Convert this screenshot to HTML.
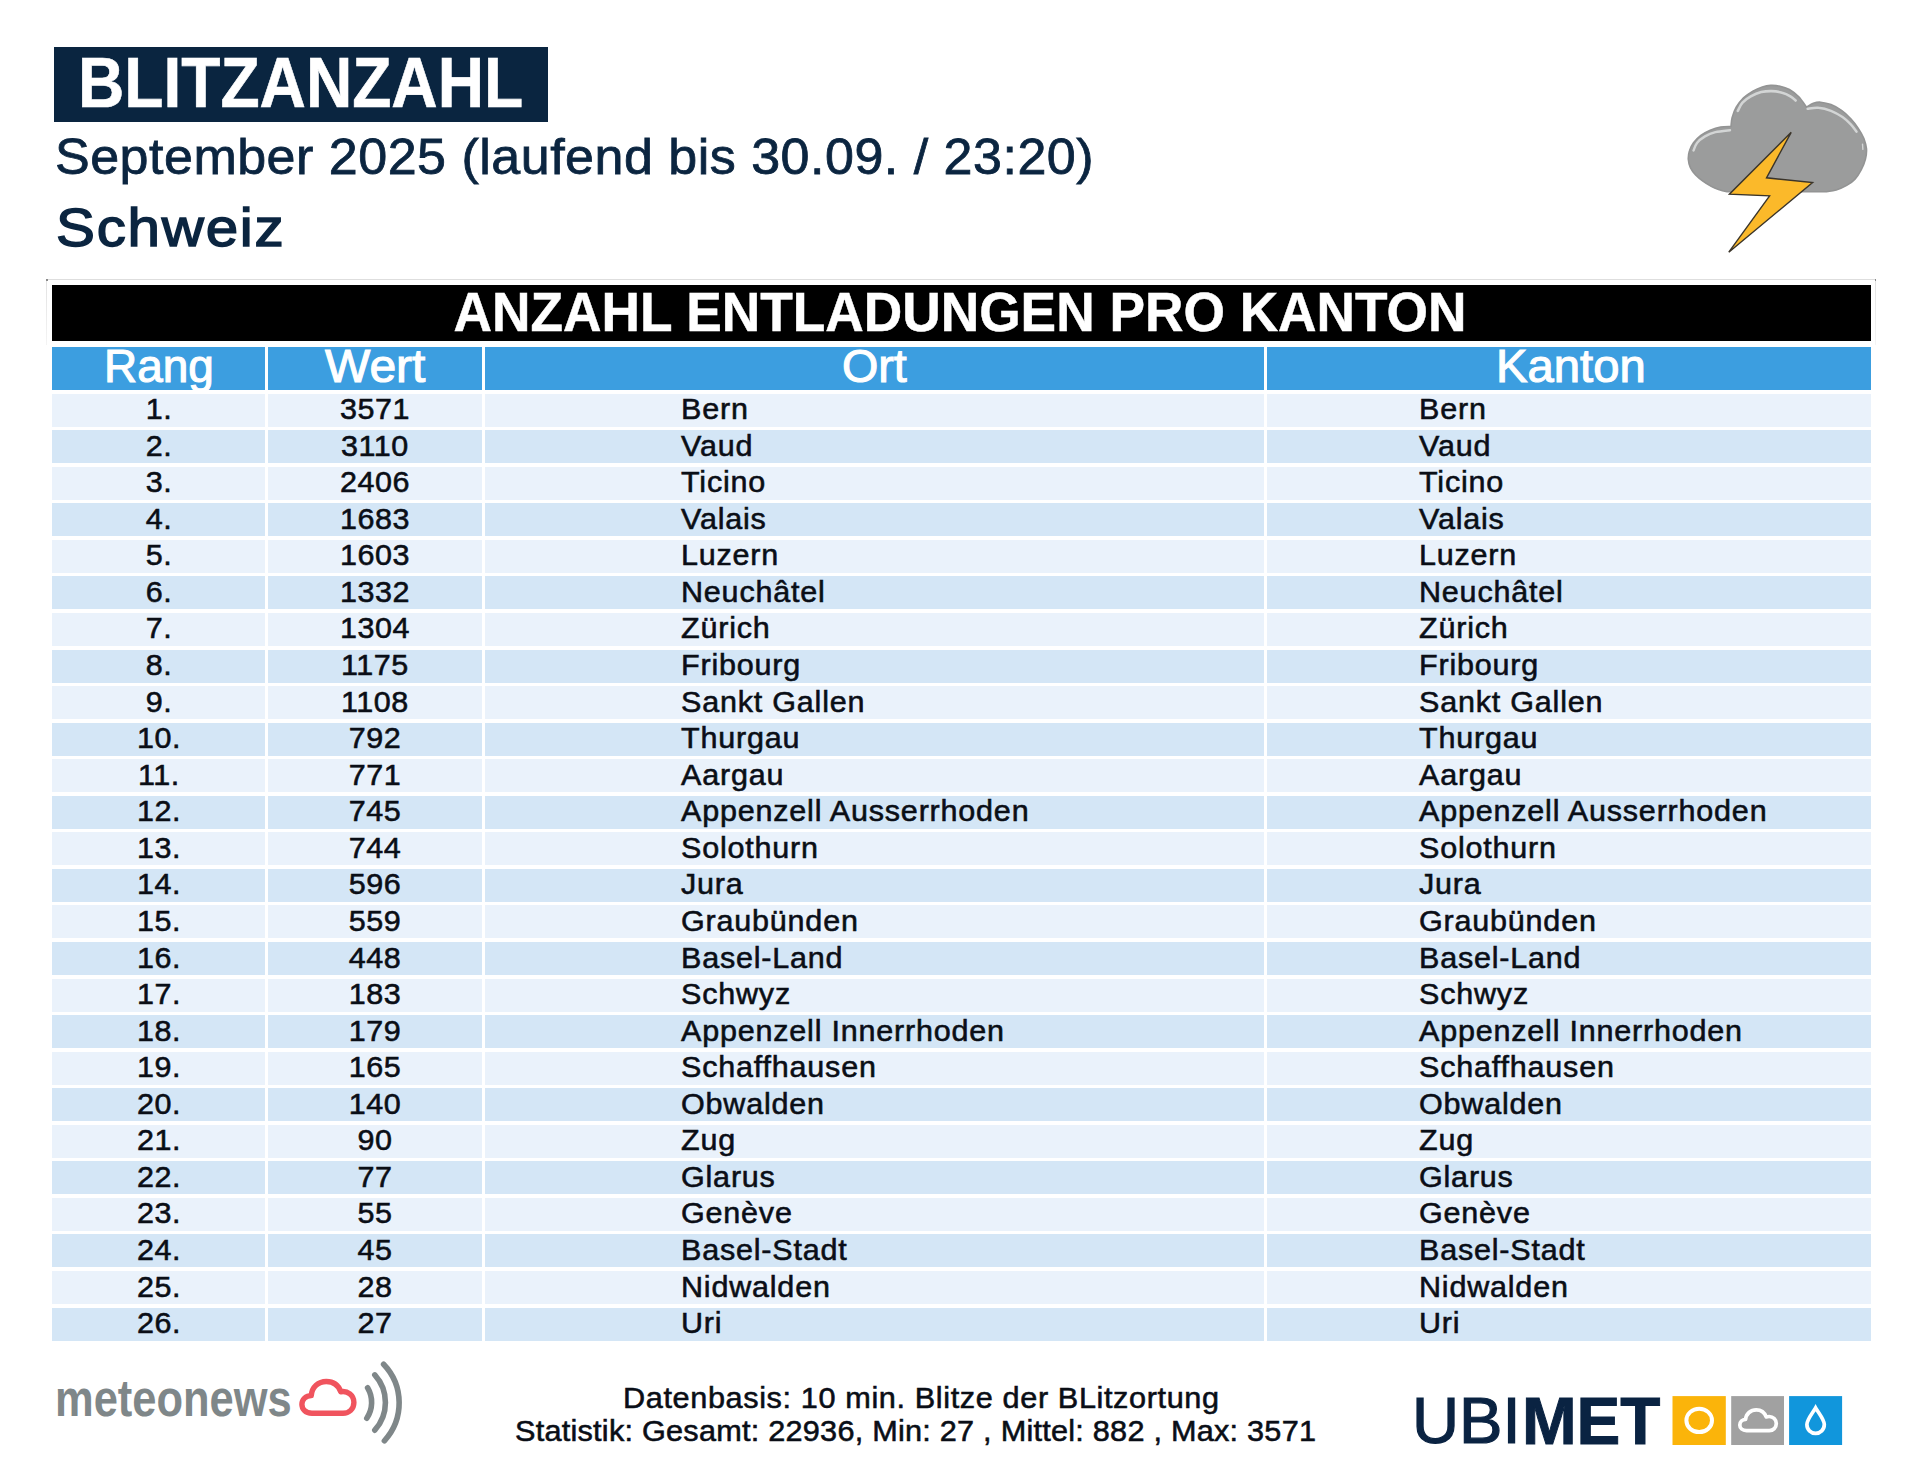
<!DOCTYPE html>
<html lang="de"><head><meta charset="utf-8"><title>Blitzanzahl September 2025 Schweiz</title>
<style>
html,body{margin:0;padding:0;background:#fff;}
body{width:1920px;height:1477px;position:relative;overflow:hidden;font-family:"Liberation Sans",sans-serif;}
.t{position:absolute;white-space:nowrap;margin:0;padding:0;}
.b{font-weight:bold;}
.navy{color:#0b2540;}
.s3{-webkit-text-stroke:0.55px currentColor;}
.s4{-webkit-text-stroke:0.45px currentColor;}
.w{color:#fff;}
.k{color:#0a0e16;}
.box{position:absolute;}
.r0{background:#eaf2fb;}
.r1{background:#d4e6f6;}
.hd{background:#3c9ee0;overflow:hidden;}
svg{position:absolute;overflow:visible;}
</style></head><body>

<div class="box" style="left:54px;top:46.8px;width:494.4px;height:75.3px;background:#0a2540;"></div>
<div class="t b w" style="left:77.50px;top:47.74px;font-size:70px;line-height:70px;transform:scaleX(0.9158);transform-origin:0 0;-webkit-text-stroke:0.6px #fff;">BLITZANZAHL</div>
<div class="t navy" style="left:55.40px;top:131.77px;font-size:50px;line-height:50px;transform:scaleX(1.04);transform-origin:0 0;-webkit-text-stroke:0.8px #0b2540;letter-spacing:0.48px;">September 2025 (laufend bis 30.09. / 23:20)</div>
<div class="t navy" style="left:55.90px;top:201.47px;font-size:54.5px;line-height:54.5px;transform:scaleX(1.07);transform-origin:0 0;-webkit-text-stroke:1.5px #0b2540;letter-spacing:1.65px;">Schweiz</div>
<div class="box" style="left:46px;top:279px;width:1830px;height:1.3px;background:#dedede;"></div>
<div class="box" style="left:46px;top:279px;width:1.2px;height:66px;background:linear-gradient(#e2e2e2,#f4f4f4);"></div>
<div class="box" style="left:1875px;top:279px;width:1.2px;height:66px;background:linear-gradient(#e2e2e2,#f4f4f4);"></div>
<div class="box" style="left:46px;top:279px;width:1.6px;height:1.6px;background:#8a8a8a;"></div>
<div class="box" style="left:1874.8px;top:279px;width:1.6px;height:1.6px;background:#8a8a8a;"></div>
<div class="box" style="left:52px;top:285px;width:1818.5px;height:56.3px;background:#000;"></div>
<div class="t b w" style="left:959.60px;top:284.27px;font-size:55.8px;line-height:55.8px;transform:translateX(-50%) scaleX(0.9546);transform-origin:50% 0;-webkit-text-stroke:0.5px #fff;">ANZAHL ENTLADUNGEN PRO KANTON</div>
<div class="box hd" style="left:52px;top:346.6px;width:213px;height:43.1px;"><div class="t w" style="left:51.80px;top:-3.42px;font-size:46.8px;line-height:46.8px;transform:scaleX(0.981);transform-origin:0 0;-webkit-text-stroke:1.1px #fff;">Rang</div></div>
<div class="box hd" style="left:268px;top:346.6px;width:214px;height:43.1px;"><div class="t w" style="left:57.40px;top:-3.42px;font-size:46.8px;line-height:46.8px;transform:scaleX(1.025);transform-origin:0 0;-webkit-text-stroke:1.1px #fff;">Wert</div></div>
<div class="box hd" style="left:485px;top:346.6px;width:779px;height:43.1px;"><div class="t w" style="left:356.50px;top:-3.42px;font-size:46.8px;line-height:46.8px;transform:scaleX(0.997);transform-origin:0 0;-webkit-text-stroke:1.1px #fff;">Ort</div></div>
<div class="box hd" style="left:1267px;top:346.6px;width:603.5px;height:43.1px;"><div class="t w" style="left:228.50px;top:-3.42px;font-size:46.8px;line-height:46.8px;transform:scaleX(1.009);transform-origin:0 0;-webkit-text-stroke:1.1px #fff;">Kanton</div></div>
<div class="box r0" style="left:52px;top:393.60px;width:213px;height:33.0px;"></div>
<div class="box r0" style="left:268px;top:393.60px;width:214px;height:33.0px;"></div>
<div class="box r0" style="left:485px;top:393.60px;width:779px;height:33.0px;"></div>
<div class="box r0" style="left:1267px;top:393.60px;width:603.5px;height:33.0px;"></div>
<div class="t k s3" style="left:158.50px;top:395.12px;font-size:28.8px;line-height:28.8px;transform:translateX(-50%) scaleX(1.06);transform-origin:50% 0;letter-spacing:0.5px;">1.</div>
<div class="t k s3" style="left:375.00px;top:395.12px;font-size:28.8px;line-height:28.8px;transform:translateX(-50%) scaleX(1.06);transform-origin:50% 0;letter-spacing:0.5px;">3571</div>
<div class="t k s3" style="left:681.00px;top:395.12px;font-size:28.8px;line-height:28.8px;transform:scaleX(1.06);transform-origin:0 0;letter-spacing:0.75px;">Bern</div>
<div class="t k s3" style="left:1419.00px;top:395.12px;font-size:28.8px;line-height:28.8px;transform:scaleX(1.06);transform-origin:0 0;letter-spacing:0.75px;">Bern</div>
<div class="box r1" style="left:52px;top:430.16px;width:213px;height:33.0px;"></div>
<div class="box r1" style="left:268px;top:430.16px;width:214px;height:33.0px;"></div>
<div class="box r1" style="left:485px;top:430.16px;width:779px;height:33.0px;"></div>
<div class="box r1" style="left:1267px;top:430.16px;width:603.5px;height:33.0px;"></div>
<div class="t k s3" style="left:158.50px;top:431.68px;font-size:28.8px;line-height:28.8px;transform:translateX(-50%) scaleX(1.06);transform-origin:50% 0;letter-spacing:0.5px;">2.</div>
<div class="t k s3" style="left:375.00px;top:431.68px;font-size:28.8px;line-height:28.8px;transform:translateX(-50%) scaleX(1.06);transform-origin:50% 0;letter-spacing:0.5px;">3110</div>
<div class="t k s3" style="left:681.00px;top:431.68px;font-size:28.8px;line-height:28.8px;transform:scaleX(1.06);transform-origin:0 0;letter-spacing:0.75px;">Vaud</div>
<div class="t k s3" style="left:1419.00px;top:431.68px;font-size:28.8px;line-height:28.8px;transform:scaleX(1.06);transform-origin:0 0;letter-spacing:0.75px;">Vaud</div>
<div class="box r0" style="left:52px;top:466.72px;width:213px;height:33.0px;"></div>
<div class="box r0" style="left:268px;top:466.72px;width:214px;height:33.0px;"></div>
<div class="box r0" style="left:485px;top:466.72px;width:779px;height:33.0px;"></div>
<div class="box r0" style="left:1267px;top:466.72px;width:603.5px;height:33.0px;"></div>
<div class="t k s3" style="left:158.50px;top:468.24px;font-size:28.8px;line-height:28.8px;transform:translateX(-50%) scaleX(1.06);transform-origin:50% 0;letter-spacing:0.5px;">3.</div>
<div class="t k s3" style="left:375.00px;top:468.24px;font-size:28.8px;line-height:28.8px;transform:translateX(-50%) scaleX(1.06);transform-origin:50% 0;letter-spacing:0.5px;">2406</div>
<div class="t k s3" style="left:681.00px;top:468.24px;font-size:28.8px;line-height:28.8px;transform:scaleX(1.06);transform-origin:0 0;letter-spacing:0.75px;">Ticino</div>
<div class="t k s3" style="left:1419.00px;top:468.24px;font-size:28.8px;line-height:28.8px;transform:scaleX(1.06);transform-origin:0 0;letter-spacing:0.75px;">Ticino</div>
<div class="box r1" style="left:52px;top:503.28px;width:213px;height:33.0px;"></div>
<div class="box r1" style="left:268px;top:503.28px;width:214px;height:33.0px;"></div>
<div class="box r1" style="left:485px;top:503.28px;width:779px;height:33.0px;"></div>
<div class="box r1" style="left:1267px;top:503.28px;width:603.5px;height:33.0px;"></div>
<div class="t k s3" style="left:158.50px;top:504.80px;font-size:28.8px;line-height:28.8px;transform:translateX(-50%) scaleX(1.06);transform-origin:50% 0;letter-spacing:0.5px;">4.</div>
<div class="t k s3" style="left:375.00px;top:504.80px;font-size:28.8px;line-height:28.8px;transform:translateX(-50%) scaleX(1.06);transform-origin:50% 0;letter-spacing:0.5px;">1683</div>
<div class="t k s3" style="left:681.00px;top:504.80px;font-size:28.8px;line-height:28.8px;transform:scaleX(1.06);transform-origin:0 0;letter-spacing:0.75px;">Valais</div>
<div class="t k s3" style="left:1419.00px;top:504.80px;font-size:28.8px;line-height:28.8px;transform:scaleX(1.06);transform-origin:0 0;letter-spacing:0.75px;">Valais</div>
<div class="box r0" style="left:52px;top:539.84px;width:213px;height:33.0px;"></div>
<div class="box r0" style="left:268px;top:539.84px;width:214px;height:33.0px;"></div>
<div class="box r0" style="left:485px;top:539.84px;width:779px;height:33.0px;"></div>
<div class="box r0" style="left:1267px;top:539.84px;width:603.5px;height:33.0px;"></div>
<div class="t k s3" style="left:158.50px;top:541.36px;font-size:28.8px;line-height:28.8px;transform:translateX(-50%) scaleX(1.06);transform-origin:50% 0;letter-spacing:0.5px;">5.</div>
<div class="t k s3" style="left:375.00px;top:541.36px;font-size:28.8px;line-height:28.8px;transform:translateX(-50%) scaleX(1.06);transform-origin:50% 0;letter-spacing:0.5px;">1603</div>
<div class="t k s3" style="left:681.00px;top:541.36px;font-size:28.8px;line-height:28.8px;transform:scaleX(1.06);transform-origin:0 0;letter-spacing:0.75px;">Luzern</div>
<div class="t k s3" style="left:1419.00px;top:541.36px;font-size:28.8px;line-height:28.8px;transform:scaleX(1.06);transform-origin:0 0;letter-spacing:0.75px;">Luzern</div>
<div class="box r1" style="left:52px;top:576.40px;width:213px;height:33.0px;"></div>
<div class="box r1" style="left:268px;top:576.40px;width:214px;height:33.0px;"></div>
<div class="box r1" style="left:485px;top:576.40px;width:779px;height:33.0px;"></div>
<div class="box r1" style="left:1267px;top:576.40px;width:603.5px;height:33.0px;"></div>
<div class="t k s3" style="left:158.50px;top:577.92px;font-size:28.8px;line-height:28.8px;transform:translateX(-50%) scaleX(1.06);transform-origin:50% 0;letter-spacing:0.5px;">6.</div>
<div class="t k s3" style="left:375.00px;top:577.92px;font-size:28.8px;line-height:28.8px;transform:translateX(-50%) scaleX(1.06);transform-origin:50% 0;letter-spacing:0.5px;">1332</div>
<div class="t k s3" style="left:681.00px;top:577.92px;font-size:28.8px;line-height:28.8px;transform:scaleX(1.06);transform-origin:0 0;letter-spacing:0.75px;">Neuchâtel</div>
<div class="t k s3" style="left:1419.00px;top:577.92px;font-size:28.8px;line-height:28.8px;transform:scaleX(1.06);transform-origin:0 0;letter-spacing:0.75px;">Neuchâtel</div>
<div class="box r0" style="left:52px;top:612.96px;width:213px;height:33.0px;"></div>
<div class="box r0" style="left:268px;top:612.96px;width:214px;height:33.0px;"></div>
<div class="box r0" style="left:485px;top:612.96px;width:779px;height:33.0px;"></div>
<div class="box r0" style="left:1267px;top:612.96px;width:603.5px;height:33.0px;"></div>
<div class="t k s3" style="left:158.50px;top:614.48px;font-size:28.8px;line-height:28.8px;transform:translateX(-50%) scaleX(1.06);transform-origin:50% 0;letter-spacing:0.5px;">7.</div>
<div class="t k s3" style="left:375.00px;top:614.48px;font-size:28.8px;line-height:28.8px;transform:translateX(-50%) scaleX(1.06);transform-origin:50% 0;letter-spacing:0.5px;">1304</div>
<div class="t k s3" style="left:681.00px;top:614.48px;font-size:28.8px;line-height:28.8px;transform:scaleX(1.06);transform-origin:0 0;letter-spacing:0.75px;">Zürich</div>
<div class="t k s3" style="left:1419.00px;top:614.48px;font-size:28.8px;line-height:28.8px;transform:scaleX(1.06);transform-origin:0 0;letter-spacing:0.75px;">Zürich</div>
<div class="box r1" style="left:52px;top:649.52px;width:213px;height:33.0px;"></div>
<div class="box r1" style="left:268px;top:649.52px;width:214px;height:33.0px;"></div>
<div class="box r1" style="left:485px;top:649.52px;width:779px;height:33.0px;"></div>
<div class="box r1" style="left:1267px;top:649.52px;width:603.5px;height:33.0px;"></div>
<div class="t k s3" style="left:158.50px;top:651.04px;font-size:28.8px;line-height:28.8px;transform:translateX(-50%) scaleX(1.06);transform-origin:50% 0;letter-spacing:0.5px;">8.</div>
<div class="t k s3" style="left:375.00px;top:651.04px;font-size:28.8px;line-height:28.8px;transform:translateX(-50%) scaleX(1.06);transform-origin:50% 0;letter-spacing:0.5px;">1175</div>
<div class="t k s3" style="left:681.00px;top:651.04px;font-size:28.8px;line-height:28.8px;transform:scaleX(1.06);transform-origin:0 0;letter-spacing:0.75px;">Fribourg</div>
<div class="t k s3" style="left:1419.00px;top:651.04px;font-size:28.8px;line-height:28.8px;transform:scaleX(1.06);transform-origin:0 0;letter-spacing:0.75px;">Fribourg</div>
<div class="box r0" style="left:52px;top:686.08px;width:213px;height:33.0px;"></div>
<div class="box r0" style="left:268px;top:686.08px;width:214px;height:33.0px;"></div>
<div class="box r0" style="left:485px;top:686.08px;width:779px;height:33.0px;"></div>
<div class="box r0" style="left:1267px;top:686.08px;width:603.5px;height:33.0px;"></div>
<div class="t k s3" style="left:158.50px;top:687.60px;font-size:28.8px;line-height:28.8px;transform:translateX(-50%) scaleX(1.06);transform-origin:50% 0;letter-spacing:0.5px;">9.</div>
<div class="t k s3" style="left:375.00px;top:687.60px;font-size:28.8px;line-height:28.8px;transform:translateX(-50%) scaleX(1.06);transform-origin:50% 0;letter-spacing:0.5px;">1108</div>
<div class="t k s3" style="left:681.00px;top:687.60px;font-size:28.8px;line-height:28.8px;transform:scaleX(1.06);transform-origin:0 0;letter-spacing:0.75px;">Sankt Gallen</div>
<div class="t k s3" style="left:1419.00px;top:687.60px;font-size:28.8px;line-height:28.8px;transform:scaleX(1.06);transform-origin:0 0;letter-spacing:0.75px;">Sankt Gallen</div>
<div class="box r1" style="left:52px;top:722.64px;width:213px;height:33.0px;"></div>
<div class="box r1" style="left:268px;top:722.64px;width:214px;height:33.0px;"></div>
<div class="box r1" style="left:485px;top:722.64px;width:779px;height:33.0px;"></div>
<div class="box r1" style="left:1267px;top:722.64px;width:603.5px;height:33.0px;"></div>
<div class="t k s3" style="left:158.50px;top:724.16px;font-size:28.8px;line-height:28.8px;transform:translateX(-50%) scaleX(1.06);transform-origin:50% 0;letter-spacing:0.5px;">10.</div>
<div class="t k s3" style="left:375.00px;top:724.16px;font-size:28.8px;line-height:28.8px;transform:translateX(-50%) scaleX(1.06);transform-origin:50% 0;letter-spacing:0.5px;">792</div>
<div class="t k s3" style="left:681.00px;top:724.16px;font-size:28.8px;line-height:28.8px;transform:scaleX(1.06);transform-origin:0 0;letter-spacing:0.75px;">Thurgau</div>
<div class="t k s3" style="left:1419.00px;top:724.16px;font-size:28.8px;line-height:28.8px;transform:scaleX(1.06);transform-origin:0 0;letter-spacing:0.75px;">Thurgau</div>
<div class="box r0" style="left:52px;top:759.20px;width:213px;height:33.0px;"></div>
<div class="box r0" style="left:268px;top:759.20px;width:214px;height:33.0px;"></div>
<div class="box r0" style="left:485px;top:759.20px;width:779px;height:33.0px;"></div>
<div class="box r0" style="left:1267px;top:759.20px;width:603.5px;height:33.0px;"></div>
<div class="t k s3" style="left:158.50px;top:760.72px;font-size:28.8px;line-height:28.8px;transform:translateX(-50%) scaleX(1.06);transform-origin:50% 0;letter-spacing:0.5px;">11.</div>
<div class="t k s3" style="left:375.00px;top:760.72px;font-size:28.8px;line-height:28.8px;transform:translateX(-50%) scaleX(1.06);transform-origin:50% 0;letter-spacing:0.5px;">771</div>
<div class="t k s3" style="left:681.00px;top:760.72px;font-size:28.8px;line-height:28.8px;transform:scaleX(1.06);transform-origin:0 0;letter-spacing:0.75px;">Aargau</div>
<div class="t k s3" style="left:1419.00px;top:760.72px;font-size:28.8px;line-height:28.8px;transform:scaleX(1.06);transform-origin:0 0;letter-spacing:0.75px;">Aargau</div>
<div class="box r1" style="left:52px;top:795.76px;width:213px;height:33.0px;"></div>
<div class="box r1" style="left:268px;top:795.76px;width:214px;height:33.0px;"></div>
<div class="box r1" style="left:485px;top:795.76px;width:779px;height:33.0px;"></div>
<div class="box r1" style="left:1267px;top:795.76px;width:603.5px;height:33.0px;"></div>
<div class="t k s3" style="left:158.50px;top:797.28px;font-size:28.8px;line-height:28.8px;transform:translateX(-50%) scaleX(1.06);transform-origin:50% 0;letter-spacing:0.5px;">12.</div>
<div class="t k s3" style="left:375.00px;top:797.28px;font-size:28.8px;line-height:28.8px;transform:translateX(-50%) scaleX(1.06);transform-origin:50% 0;letter-spacing:0.5px;">745</div>
<div class="t k s3" style="left:681.00px;top:797.28px;font-size:28.8px;line-height:28.8px;transform:scaleX(1.06);transform-origin:0 0;letter-spacing:0.75px;">Appenzell Ausserrhoden</div>
<div class="t k s3" style="left:1419.00px;top:797.28px;font-size:28.8px;line-height:28.8px;transform:scaleX(1.06);transform-origin:0 0;letter-spacing:0.75px;">Appenzell Ausserrhoden</div>
<div class="box r0" style="left:52px;top:832.32px;width:213px;height:33.0px;"></div>
<div class="box r0" style="left:268px;top:832.32px;width:214px;height:33.0px;"></div>
<div class="box r0" style="left:485px;top:832.32px;width:779px;height:33.0px;"></div>
<div class="box r0" style="left:1267px;top:832.32px;width:603.5px;height:33.0px;"></div>
<div class="t k s3" style="left:158.50px;top:833.84px;font-size:28.8px;line-height:28.8px;transform:translateX(-50%) scaleX(1.06);transform-origin:50% 0;letter-spacing:0.5px;">13.</div>
<div class="t k s3" style="left:375.00px;top:833.84px;font-size:28.8px;line-height:28.8px;transform:translateX(-50%) scaleX(1.06);transform-origin:50% 0;letter-spacing:0.5px;">744</div>
<div class="t k s3" style="left:681.00px;top:833.84px;font-size:28.8px;line-height:28.8px;transform:scaleX(1.06);transform-origin:0 0;letter-spacing:0.75px;">Solothurn</div>
<div class="t k s3" style="left:1419.00px;top:833.84px;font-size:28.8px;line-height:28.8px;transform:scaleX(1.06);transform-origin:0 0;letter-spacing:0.75px;">Solothurn</div>
<div class="box r1" style="left:52px;top:868.88px;width:213px;height:33.0px;"></div>
<div class="box r1" style="left:268px;top:868.88px;width:214px;height:33.0px;"></div>
<div class="box r1" style="left:485px;top:868.88px;width:779px;height:33.0px;"></div>
<div class="box r1" style="left:1267px;top:868.88px;width:603.5px;height:33.0px;"></div>
<div class="t k s3" style="left:158.50px;top:870.40px;font-size:28.8px;line-height:28.8px;transform:translateX(-50%) scaleX(1.06);transform-origin:50% 0;letter-spacing:0.5px;">14.</div>
<div class="t k s3" style="left:375.00px;top:870.40px;font-size:28.8px;line-height:28.8px;transform:translateX(-50%) scaleX(1.06);transform-origin:50% 0;letter-spacing:0.5px;">596</div>
<div class="t k s3" style="left:681.00px;top:870.40px;font-size:28.8px;line-height:28.8px;transform:scaleX(1.06);transform-origin:0 0;letter-spacing:0.75px;">Jura</div>
<div class="t k s3" style="left:1419.00px;top:870.40px;font-size:28.8px;line-height:28.8px;transform:scaleX(1.06);transform-origin:0 0;letter-spacing:0.75px;">Jura</div>
<div class="box r0" style="left:52px;top:905.44px;width:213px;height:33.0px;"></div>
<div class="box r0" style="left:268px;top:905.44px;width:214px;height:33.0px;"></div>
<div class="box r0" style="left:485px;top:905.44px;width:779px;height:33.0px;"></div>
<div class="box r0" style="left:1267px;top:905.44px;width:603.5px;height:33.0px;"></div>
<div class="t k s3" style="left:158.50px;top:906.96px;font-size:28.8px;line-height:28.8px;transform:translateX(-50%) scaleX(1.06);transform-origin:50% 0;letter-spacing:0.5px;">15.</div>
<div class="t k s3" style="left:375.00px;top:906.96px;font-size:28.8px;line-height:28.8px;transform:translateX(-50%) scaleX(1.06);transform-origin:50% 0;letter-spacing:0.5px;">559</div>
<div class="t k s3" style="left:681.00px;top:906.96px;font-size:28.8px;line-height:28.8px;transform:scaleX(1.06);transform-origin:0 0;letter-spacing:0.75px;">Graubünden</div>
<div class="t k s3" style="left:1419.00px;top:906.96px;font-size:28.8px;line-height:28.8px;transform:scaleX(1.06);transform-origin:0 0;letter-spacing:0.75px;">Graubünden</div>
<div class="box r1" style="left:52px;top:942.00px;width:213px;height:33.0px;"></div>
<div class="box r1" style="left:268px;top:942.00px;width:214px;height:33.0px;"></div>
<div class="box r1" style="left:485px;top:942.00px;width:779px;height:33.0px;"></div>
<div class="box r1" style="left:1267px;top:942.00px;width:603.5px;height:33.0px;"></div>
<div class="t k s3" style="left:158.50px;top:943.52px;font-size:28.8px;line-height:28.8px;transform:translateX(-50%) scaleX(1.06);transform-origin:50% 0;letter-spacing:0.5px;">16.</div>
<div class="t k s3" style="left:375.00px;top:943.52px;font-size:28.8px;line-height:28.8px;transform:translateX(-50%) scaleX(1.06);transform-origin:50% 0;letter-spacing:0.5px;">448</div>
<div class="t k s3" style="left:681.00px;top:943.52px;font-size:28.8px;line-height:28.8px;transform:scaleX(1.06);transform-origin:0 0;letter-spacing:0.75px;">Basel-Land</div>
<div class="t k s3" style="left:1419.00px;top:943.52px;font-size:28.8px;line-height:28.8px;transform:scaleX(1.06);transform-origin:0 0;letter-spacing:0.75px;">Basel-Land</div>
<div class="box r0" style="left:52px;top:978.56px;width:213px;height:33.0px;"></div>
<div class="box r0" style="left:268px;top:978.56px;width:214px;height:33.0px;"></div>
<div class="box r0" style="left:485px;top:978.56px;width:779px;height:33.0px;"></div>
<div class="box r0" style="left:1267px;top:978.56px;width:603.5px;height:33.0px;"></div>
<div class="t k s3" style="left:158.50px;top:980.08px;font-size:28.8px;line-height:28.8px;transform:translateX(-50%) scaleX(1.06);transform-origin:50% 0;letter-spacing:0.5px;">17.</div>
<div class="t k s3" style="left:375.00px;top:980.08px;font-size:28.8px;line-height:28.8px;transform:translateX(-50%) scaleX(1.06);transform-origin:50% 0;letter-spacing:0.5px;">183</div>
<div class="t k s3" style="left:681.00px;top:980.08px;font-size:28.8px;line-height:28.8px;transform:scaleX(1.06);transform-origin:0 0;letter-spacing:0.75px;">Schwyz</div>
<div class="t k s3" style="left:1419.00px;top:980.08px;font-size:28.8px;line-height:28.8px;transform:scaleX(1.06);transform-origin:0 0;letter-spacing:0.75px;">Schwyz</div>
<div class="box r1" style="left:52px;top:1015.12px;width:213px;height:33.0px;"></div>
<div class="box r1" style="left:268px;top:1015.12px;width:214px;height:33.0px;"></div>
<div class="box r1" style="left:485px;top:1015.12px;width:779px;height:33.0px;"></div>
<div class="box r1" style="left:1267px;top:1015.12px;width:603.5px;height:33.0px;"></div>
<div class="t k s3" style="left:158.50px;top:1016.64px;font-size:28.8px;line-height:28.8px;transform:translateX(-50%) scaleX(1.06);transform-origin:50% 0;letter-spacing:0.5px;">18.</div>
<div class="t k s3" style="left:375.00px;top:1016.64px;font-size:28.8px;line-height:28.8px;transform:translateX(-50%) scaleX(1.06);transform-origin:50% 0;letter-spacing:0.5px;">179</div>
<div class="t k s3" style="left:681.00px;top:1016.64px;font-size:28.8px;line-height:28.8px;transform:scaleX(1.06);transform-origin:0 0;letter-spacing:0.75px;">Appenzell Innerrhoden</div>
<div class="t k s3" style="left:1419.00px;top:1016.64px;font-size:28.8px;line-height:28.8px;transform:scaleX(1.06);transform-origin:0 0;letter-spacing:0.75px;">Appenzell Innerrhoden</div>
<div class="box r0" style="left:52px;top:1051.68px;width:213px;height:33.0px;"></div>
<div class="box r0" style="left:268px;top:1051.68px;width:214px;height:33.0px;"></div>
<div class="box r0" style="left:485px;top:1051.68px;width:779px;height:33.0px;"></div>
<div class="box r0" style="left:1267px;top:1051.68px;width:603.5px;height:33.0px;"></div>
<div class="t k s3" style="left:158.50px;top:1053.20px;font-size:28.8px;line-height:28.8px;transform:translateX(-50%) scaleX(1.06);transform-origin:50% 0;letter-spacing:0.5px;">19.</div>
<div class="t k s3" style="left:375.00px;top:1053.20px;font-size:28.8px;line-height:28.8px;transform:translateX(-50%) scaleX(1.06);transform-origin:50% 0;letter-spacing:0.5px;">165</div>
<div class="t k s3" style="left:681.00px;top:1053.20px;font-size:28.8px;line-height:28.8px;transform:scaleX(1.06);transform-origin:0 0;letter-spacing:0.75px;">Schaffhausen</div>
<div class="t k s3" style="left:1419.00px;top:1053.20px;font-size:28.8px;line-height:28.8px;transform:scaleX(1.06);transform-origin:0 0;letter-spacing:0.75px;">Schaffhausen</div>
<div class="box r1" style="left:52px;top:1088.24px;width:213px;height:33.0px;"></div>
<div class="box r1" style="left:268px;top:1088.24px;width:214px;height:33.0px;"></div>
<div class="box r1" style="left:485px;top:1088.24px;width:779px;height:33.0px;"></div>
<div class="box r1" style="left:1267px;top:1088.24px;width:603.5px;height:33.0px;"></div>
<div class="t k s3" style="left:158.50px;top:1089.76px;font-size:28.8px;line-height:28.8px;transform:translateX(-50%) scaleX(1.06);transform-origin:50% 0;letter-spacing:0.5px;">20.</div>
<div class="t k s3" style="left:375.00px;top:1089.76px;font-size:28.8px;line-height:28.8px;transform:translateX(-50%) scaleX(1.06);transform-origin:50% 0;letter-spacing:0.5px;">140</div>
<div class="t k s3" style="left:681.00px;top:1089.76px;font-size:28.8px;line-height:28.8px;transform:scaleX(1.06);transform-origin:0 0;letter-spacing:0.75px;">Obwalden</div>
<div class="t k s3" style="left:1419.00px;top:1089.76px;font-size:28.8px;line-height:28.8px;transform:scaleX(1.06);transform-origin:0 0;letter-spacing:0.75px;">Obwalden</div>
<div class="box r0" style="left:52px;top:1124.80px;width:213px;height:33.0px;"></div>
<div class="box r0" style="left:268px;top:1124.80px;width:214px;height:33.0px;"></div>
<div class="box r0" style="left:485px;top:1124.80px;width:779px;height:33.0px;"></div>
<div class="box r0" style="left:1267px;top:1124.80px;width:603.5px;height:33.0px;"></div>
<div class="t k s3" style="left:158.50px;top:1126.32px;font-size:28.8px;line-height:28.8px;transform:translateX(-50%) scaleX(1.06);transform-origin:50% 0;letter-spacing:0.5px;">21.</div>
<div class="t k s3" style="left:375.00px;top:1126.32px;font-size:28.8px;line-height:28.8px;transform:translateX(-50%) scaleX(1.06);transform-origin:50% 0;letter-spacing:0.5px;">90</div>
<div class="t k s3" style="left:681.00px;top:1126.32px;font-size:28.8px;line-height:28.8px;transform:scaleX(1.06);transform-origin:0 0;letter-spacing:0.75px;">Zug</div>
<div class="t k s3" style="left:1419.00px;top:1126.32px;font-size:28.8px;line-height:28.8px;transform:scaleX(1.06);transform-origin:0 0;letter-spacing:0.75px;">Zug</div>
<div class="box r1" style="left:52px;top:1161.36px;width:213px;height:33.0px;"></div>
<div class="box r1" style="left:268px;top:1161.36px;width:214px;height:33.0px;"></div>
<div class="box r1" style="left:485px;top:1161.36px;width:779px;height:33.0px;"></div>
<div class="box r1" style="left:1267px;top:1161.36px;width:603.5px;height:33.0px;"></div>
<div class="t k s3" style="left:158.50px;top:1162.88px;font-size:28.8px;line-height:28.8px;transform:translateX(-50%) scaleX(1.06);transform-origin:50% 0;letter-spacing:0.5px;">22.</div>
<div class="t k s3" style="left:375.00px;top:1162.88px;font-size:28.8px;line-height:28.8px;transform:translateX(-50%) scaleX(1.06);transform-origin:50% 0;letter-spacing:0.5px;">77</div>
<div class="t k s3" style="left:681.00px;top:1162.88px;font-size:28.8px;line-height:28.8px;transform:scaleX(1.06);transform-origin:0 0;letter-spacing:0.75px;">Glarus</div>
<div class="t k s3" style="left:1419.00px;top:1162.88px;font-size:28.8px;line-height:28.8px;transform:scaleX(1.06);transform-origin:0 0;letter-spacing:0.75px;">Glarus</div>
<div class="box r0" style="left:52px;top:1197.92px;width:213px;height:33.0px;"></div>
<div class="box r0" style="left:268px;top:1197.92px;width:214px;height:33.0px;"></div>
<div class="box r0" style="left:485px;top:1197.92px;width:779px;height:33.0px;"></div>
<div class="box r0" style="left:1267px;top:1197.92px;width:603.5px;height:33.0px;"></div>
<div class="t k s3" style="left:158.50px;top:1199.44px;font-size:28.8px;line-height:28.8px;transform:translateX(-50%) scaleX(1.06);transform-origin:50% 0;letter-spacing:0.5px;">23.</div>
<div class="t k s3" style="left:375.00px;top:1199.44px;font-size:28.8px;line-height:28.8px;transform:translateX(-50%) scaleX(1.06);transform-origin:50% 0;letter-spacing:0.5px;">55</div>
<div class="t k s3" style="left:681.00px;top:1199.44px;font-size:28.8px;line-height:28.8px;transform:scaleX(1.06);transform-origin:0 0;letter-spacing:0.75px;">Genève</div>
<div class="t k s3" style="left:1419.00px;top:1199.44px;font-size:28.8px;line-height:28.8px;transform:scaleX(1.06);transform-origin:0 0;letter-spacing:0.75px;">Genève</div>
<div class="box r1" style="left:52px;top:1234.48px;width:213px;height:33.0px;"></div>
<div class="box r1" style="left:268px;top:1234.48px;width:214px;height:33.0px;"></div>
<div class="box r1" style="left:485px;top:1234.48px;width:779px;height:33.0px;"></div>
<div class="box r1" style="left:1267px;top:1234.48px;width:603.5px;height:33.0px;"></div>
<div class="t k s3" style="left:158.50px;top:1236.00px;font-size:28.8px;line-height:28.8px;transform:translateX(-50%) scaleX(1.06);transform-origin:50% 0;letter-spacing:0.5px;">24.</div>
<div class="t k s3" style="left:375.00px;top:1236.00px;font-size:28.8px;line-height:28.8px;transform:translateX(-50%) scaleX(1.06);transform-origin:50% 0;letter-spacing:0.5px;">45</div>
<div class="t k s3" style="left:681.00px;top:1236.00px;font-size:28.8px;line-height:28.8px;transform:scaleX(1.06);transform-origin:0 0;letter-spacing:0.75px;">Basel-Stadt</div>
<div class="t k s3" style="left:1419.00px;top:1236.00px;font-size:28.8px;line-height:28.8px;transform:scaleX(1.06);transform-origin:0 0;letter-spacing:0.75px;">Basel-Stadt</div>
<div class="box r0" style="left:52px;top:1271.04px;width:213px;height:33.0px;"></div>
<div class="box r0" style="left:268px;top:1271.04px;width:214px;height:33.0px;"></div>
<div class="box r0" style="left:485px;top:1271.04px;width:779px;height:33.0px;"></div>
<div class="box r0" style="left:1267px;top:1271.04px;width:603.5px;height:33.0px;"></div>
<div class="t k s3" style="left:158.50px;top:1272.56px;font-size:28.8px;line-height:28.8px;transform:translateX(-50%) scaleX(1.06);transform-origin:50% 0;letter-spacing:0.5px;">25.</div>
<div class="t k s3" style="left:375.00px;top:1272.56px;font-size:28.8px;line-height:28.8px;transform:translateX(-50%) scaleX(1.06);transform-origin:50% 0;letter-spacing:0.5px;">28</div>
<div class="t k s3" style="left:681.00px;top:1272.56px;font-size:28.8px;line-height:28.8px;transform:scaleX(1.06);transform-origin:0 0;letter-spacing:0.75px;">Nidwalden</div>
<div class="t k s3" style="left:1419.00px;top:1272.56px;font-size:28.8px;line-height:28.8px;transform:scaleX(1.06);transform-origin:0 0;letter-spacing:0.75px;">Nidwalden</div>
<div class="box r1" style="left:52px;top:1307.60px;width:213px;height:33.0px;"></div>
<div class="box r1" style="left:268px;top:1307.60px;width:214px;height:33.0px;"></div>
<div class="box r1" style="left:485px;top:1307.60px;width:779px;height:33.0px;"></div>
<div class="box r1" style="left:1267px;top:1307.60px;width:603.5px;height:33.0px;"></div>
<div class="t k s3" style="left:158.50px;top:1309.12px;font-size:28.8px;line-height:28.8px;transform:translateX(-50%) scaleX(1.06);transform-origin:50% 0;letter-spacing:0.5px;">26.</div>
<div class="t k s3" style="left:375.00px;top:1309.12px;font-size:28.8px;line-height:28.8px;transform:translateX(-50%) scaleX(1.06);transform-origin:50% 0;letter-spacing:0.5px;">27</div>
<div class="t k s3" style="left:681.00px;top:1309.12px;font-size:28.8px;line-height:28.8px;transform:scaleX(1.06);transform-origin:0 0;letter-spacing:0.75px;">Uri</div>
<div class="t k s3" style="left:1419.00px;top:1309.12px;font-size:28.8px;line-height:28.8px;transform:scaleX(1.06);transform-origin:0 0;letter-spacing:0.75px;">Uri</div>
<div class="t k s3" style="left:622.80px;top:1384.48px;font-size:29.2px;line-height:29.2px;transform:scaleX(1.05);transform-origin:0 0;letter-spacing:0.59px;">Datenbasis: 10 min. Blitze der BLitzortung</div>
<div class="t k s3" style="left:514.90px;top:1417.28px;font-size:29.2px;line-height:29.2px;transform:scaleX(1.05);transform-origin:0 0;letter-spacing:0.23px;">Statistik: Gesamt: 22936, Min: 27 , Mittel: 882 , Max: 3571</div>
<svg width="1920" height="1477" viewBox="0 0 1920 1477" style="left:0;top:0;pointer-events:none">
<path d="M1731.0 126.5 C1731.2 125.0 1731.2 120.9 1732.1 117.7 C1733.0 114.5 1734.3 110.5 1736.2 107.2 C1738.2 104.0 1740.8 100.6 1743.5 97.9 C1746.3 95.2 1749.8 92.9 1752.9 91.1 C1756.0 89.3 1759.3 87.9 1762.3 86.9 C1765.2 86.0 1767.7 85.5 1770.6 85.4 C1773.6 85.3 1776.9 85.5 1780.0 86.2 C1783.1 86.9 1786.2 87.8 1789.4 89.5 C1792.5 91.3 1795.9 93.9 1798.8 96.8 C1801.6 99.8 1805.3 105.5 1806.6 107.2 C1807.7 106.6 1811.0 104.1 1813.3 103.3 C1815.7 102.5 1817.7 102.0 1820.6 102.2 C1823.6 102.5 1827.6 103.3 1831.0 104.6 C1834.5 106.0 1838.2 108.0 1841.5 110.4 C1844.8 112.7 1848.1 115.8 1850.8 118.7 C1853.6 121.7 1856.0 124.8 1858.1 128.1 C1860.3 131.4 1862.5 135.0 1863.9 138.5 C1865.2 142.0 1866.2 145.4 1866.5 148.9 C1866.7 152.4 1866.3 155.9 1865.4 159.3 C1864.5 162.8 1863.0 166.5 1861.2 169.8 C1859.5 173.0 1857.4 176.5 1855.0 179.1 C1852.6 181.7 1849.8 183.6 1846.7 185.4 C1843.5 187.2 1839.7 189.0 1836.2 190.1 C1832.8 191.1 1827.6 191.5 1825.8 191.8 L1726.9 191.8 C1725.5 191.5 1721.1 190.4 1718.5 189.5 C1715.9 188.6 1713.9 187.8 1711.2 186.4 C1708.6 185.0 1705.5 183.1 1702.9 181.2 C1700.3 179.3 1697.7 177.2 1695.6 175.0 C1693.5 172.7 1691.6 170.3 1690.4 167.7 C1689.2 165.1 1688.5 162.1 1688.3 159.3 C1688.2 156.6 1688.5 153.8 1689.4 151.0 C1690.2 148.2 1691.6 145.3 1693.5 142.7 C1695.5 140.1 1698.1 137.5 1700.8 135.4 C1703.6 133.3 1706.9 131.6 1710.2 130.2 C1713.5 128.8 1717.2 127.6 1720.6 127.0 C1724.1 126.4 1729.3 126.6 1731.0 126.5 Z" fill="#9b9c9c" stroke="#939494" stroke-width="1.6" stroke-linejoin="round"/>
<path d="M1737.8 110.9 C1738.6 109.5 1740.3 105.0 1742.5 102.6 C1744.7 100.1 1747.7 98.0 1750.8 96.3 C1754.0 94.6 1757.8 93.0 1761.2 92.1 C1764.7 91.3 1768.2 91.0 1771.7 91.1 C1775.1 91.2 1779.0 91.8 1782.1 92.7 C1785.2 93.5 1788.2 95.0 1790.4 96.3 C1792.7 97.6 1794.8 99.8 1795.6 100.5" fill="none" stroke="#e6e8e8" stroke-width="2.6" stroke-linecap="round" opacity="0.75"/>
<path d="M1807.6 108.8 C1809.4 108.6 1814.6 107.4 1818.5 107.8 C1822.4 108.1 1827.0 109.3 1831.0 110.9 C1835.0 112.5 1839.2 114.9 1842.5 117.1 C1845.8 119.4 1848.5 122.0 1850.8 124.4 C1853.2 126.9 1855.6 130.5 1856.6 131.7" fill="none" stroke="#e6e8e8" stroke-width="2.4" stroke-linecap="round" opacity="0.75"/>
<path d="M1693.5 150.5 C1694.1 149.2 1695.3 145.0 1697.2 142.7 C1699.1 140.3 1702.0 138.2 1705.0 136.4 C1708.0 134.7 1711.2 133.3 1715.4 132.2 C1719.6 131.2 1727.6 130.5 1730.0 130.2" fill="none" stroke="#e6e8e8" stroke-width="2.4" stroke-linecap="round" opacity="0.75"/>
<path d="M1862.5 144.2 C1862.6 145.1 1862.8 148.6 1862.9 149.4" fill="none" stroke="#e6e8e8" stroke-width="1.4" stroke-linecap="round" opacity="0.75"/>
<path d="M1791.2 132.3 L1766.5 177.8 L1812.6 182.6 L1728.8 252.2 L1769.6 195.9 L1729.4 194.2 Z" fill="#fbb92a" stroke="#3a342a" stroke-width="1.4" stroke-linejoin="miter"/>
<path d="M312 1413.3 C305 1413.3 301.9 1408.5 301.9 1404.3 C301.9 1399.5 305.8 1395.6 311.3 1395.6 C311.8 1387 318.5 1381.5 326.3 1381.5 C333.5 1381.5 338.6 1385.6 340.8 1391.8 C347.5 1390.5 353.9 1395.3 353.9 1402.5 C353.9 1409 349 1413.3 343 1413.3 Z" fill="none" stroke="#f0545e" stroke-width="5.4" stroke-linejoin="round"/>
<g fill="none" stroke="#7f8789" stroke-width="5.6" stroke-linecap="round">
<path d="M367.6 1387.8 A28.4 28.4 0 0 1 366.8 1418.2"/>
<path d="M374.8 1374.9 A41.3 41.3 0 0 1 374.8 1430.2"/>
<path d="M383.6 1364.2 A56 56 0 0 1 384.4 1440.8"/>
</g>
<rect x="1672.5" y="1396.1" width="53.3" height="48.9" fill="#fbb40a"/>
<rect x="1731.2" y="1396.1" width="52.8" height="48.9" fill="#a1a1a1"/>
<rect x="1789.1" y="1396.1" width="53" height="48.9" fill="#1196dc"/>
<ellipse cx="1699.2" cy="1420.4" rx="12.8" ry="11.7" fill="none" stroke="#fff" stroke-width="4"/>
<path d="M1746.5 1430.6 C1742.3 1430.6 1739.8 1428 1739.8 1425 C1739.8 1421.9 1742.2 1419.6 1745.6 1419.4 C1746.1 1413.8 1750.6 1409.8 1756.3 1409.8 C1761 1409.8 1764.6 1412.6 1766.2 1416.9 C1767.1 1416.6 1768.1 1416.5 1769.1 1416.5 C1773.2 1416.5 1776.3 1419.6 1776.3 1423.6 C1776.3 1427.6 1773.2 1430.6 1769.3 1430.6 Z" fill="none" stroke="#fff" stroke-width="3.7" stroke-linejoin="round"/>
<path d="M1815.6 1407.8 C1812.6 1413 1806.9 1419.3 1806.9 1424.5 C1806.9 1429.6 1810.8 1433.3 1815.6 1433.3 C1820.4 1433.3 1824.3 1429.6 1824.3 1424.5 C1824.3 1419.3 1818.6 1413 1815.6 1407.8 Z" fill="none" stroke="#fff" stroke-width="3.7" stroke-linejoin="miter" stroke-miterlimit="6"/>
</svg>
<div class="t b" style="left:54.50px;top:1371.76px;font-size:52.5px;line-height:52.5px;transform:scaleX(0.828);transform-origin:0 0;color:#7f8789;">meteonews</div>
<div class="t " style="left:1411.60px;top:1388.15px;font-size:65.5px;line-height:65.5px;transform:scaleX(0.995);transform-origin:0 0;color:#0a2342;-webkit-text-stroke:1.2px #0a2342;">UBI</div>
<div class="t b" style="left:1522.10px;top:1387.51px;font-size:66.5px;line-height:66.5px;transform:scaleX(0.986);transform-origin:0 0;color:#0a2342;-webkit-text-stroke:1px #0a2342;">MET</div>
</body></html>
